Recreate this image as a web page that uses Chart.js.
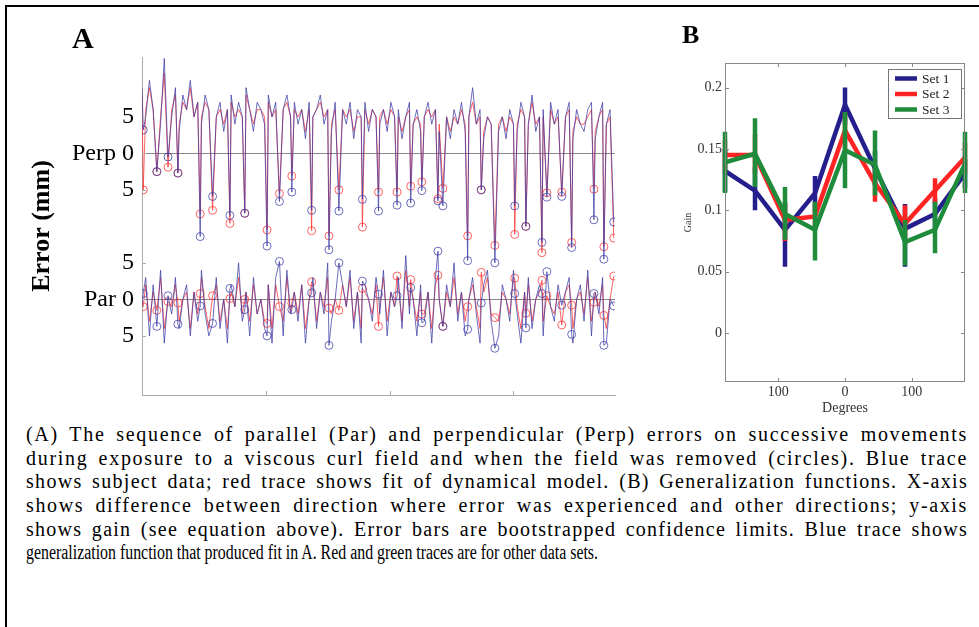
<!DOCTYPE html>
<html>
<head>
<meta charset="utf-8">
<script src="https://cdn.jsdelivr.net/npm/chart.js@4.4.1/dist/chart.umd.min.js"></script>
<style>
  body { margin: 0; width: 979px; height: 627px; overflow: hidden; position: relative; background: #fff;
         font-family: "Liberation Serif", "Times New Roman", serif; color: #000; }
  #frame { position: absolute; left: 5px; top: 5px; width: 1100px; height: 700px;
           border-left: 2px solid #000; border-top: 2px solid #000; }
  #chartA { position: absolute; left: 0; top: 0; }
  #chartB { position: absolute; left: 640px; top: 0; }
  .letter { position: absolute; font-weight: bold; line-height: 1; }
  #caption { position: absolute; left: 26px; top: 423px; }
  .capline { height: 23.7px; line-height: 23.7px; font-size: 20px; white-space: nowrap; transform-origin: 0 0; }
</style>
</head>
<body>
<div id="frame"></div>
<canvas id="chartA" width="640" height="420"></canvas>
<canvas id="chartB" width="339" height="420"></canvas>
<div class="letter" style="left:72px; top:23px; font-size:30px;">A</div>
<div class="letter" style="left:682px; top:22px; font-size:26px;">B</div>
<div id="caption"></div>

<script>
// ---------- panel A: trial-by-trial errors (mm) ----------
const traceStep = 3;          // background traces are read every 3rd trial
const perpOffset = 20;        // Perp trace is drawn 20 mm above the Par trace

// trials where the field was removed (circles)
const catchTrials = [1, 12, 21, 29, 47, 57, 71, 83, 101, 111, 121, 137, 151, 159, 178, 191, 206,
                     217, 226, 239, 243, 263, 274, 285, 301, 310, 323, 327, 339, 347, 365, 373, 381];

const perpBlueCatch = [3.2, -2.5, -0.5, -2.7, -11.4, -5.9, -8.5, -8.2, -12.7, -6.6, -5.3, -7.8, -13.2, -7.9, -6.3, -7.9, -7.1,
                       -6.8, -5.1, -6.5, -7.2, -14.7, -5.0, -15.0, -7.2, -10.0, -12.2, -6.0, -5.9, -12.9, -9.1, -14.5, -9.4];
const perpRedCatch  = [-5.0, -2.5, -1.9, -2.7, -8.3, -7.8, -9.6, -8.2, -10.5, -5.5, -3.1, -10.6, -11.3, -5.0, -10.1, -5.3, -5.3,
                       -4.5, -3.9, -6.2, -4.8, -11.3, -5.0, -12.6, -11.1, -10.0, -13.6, -5.4, -5.3, -12.2, -4.9, -12.8, -11.6];
const parBlueCatch  = [0.8, -3.7, 0.5, -3.4, -0.9, -3.3, 1.5, -1.4, -5.0, 5.2, -1.4, 0.9, -6.3, 5.0, 2.5, 0.7, 0.5,
                       1.6, -3.2, 6.6, -3.7, -4.1, -0.5, -6.7, 0.8, -3.9, 0.8, 3.8, -0.8, -4.8, 0.8, -6.3, -0.9];
const parRedCatch   = [-1.0, -1.5, -0.3, -0.5, 0.8, 0.5, 0.1, 0.0, -3.3, -1.0, -0.5, 2.4, -1.2, -1.5, 1.5, -3.7, 3.2,
                       2.7, -2.0, 3.3, -3.7, -1.0, 3.7, -2.5, 2.9, -1.9, 2.6, 0.5, -3.5, -0.8, -0.4, -2.2, 3.2];

// subject data (blue) and model fit (red), trials 0,3,6,...,381
const perpBlue = [
  9, 5, 10, 6, 8, 4, 13, 7, 5, 9, 3, 8, 6, 10, 5, 7,
  4, 8, 6, 9, 5, 7, 3, 6, 8, 4, 7, 5, 9, 6, 3, 7,
  6, 4, 8, 5, 7, 3, 6, 8, 5, 7, 4, 6, 2, 7, 5, 6,
  8, 4, 6, 3, 7, 5, 6, 4, 7, 2, 6, 5, 7, 3, 6, 5,
  4, 6, 3, 7, 5, 6, 2, 5, 7, 4, 6, 3, 5, 7, 4, 6,
  3, 6, 5, 2, 6, 4, 7, 3, 5, 9, 4, 6, 2, 5, 4, 6,
  3, 5, 2, 6, 4, 3, 7, 5, 4, 8, 3, 5, 6, 2, 7, 4,
  6, 3, 5, 7, 2, 6, 4, 3, 6, 7, 2, 5, 7, 4, 6, 2
];
const perpRed = [
  8, 6, 9, 6, 7, 5, 11, 7, 6, 8, 4, 7, 6, 9, 5, 7,
  5, 7, 6, 8, 5, 6, 4, 6, 7, 5, 6, 5, 8, 6, 4, 6,
  6, 5, 7, 5, 6, 4, 6, 7, 5, 6, 5, 6, 3, 6, 5, 6,
  7, 5, 6, 4, 6, 5, 6, 5, 6, 3, 5, 5, 6, 4, 6, 5,
  5, 6, 4, 6, 5, 5, 3, 5, 6, 4, 5, 4, 5, 6, 5, 6,
  4, 5, 5, 3, 5, 4, 6, 4, 5, 7, 4, 5, 3, 5, 4, 5,
  4, 5, 3, 5, 4, 4, 6, 5, 4, 7, 4, 5, 5, 3, 6, 4,
  5, 4, 5, 6, 3, 5, 4, 4, 5, 6, 3, 5, 6, 4, 5, 3
];
const parBlue = [
  -1, 3, -5, 2, -3, 4, -6, 1, -2, 3, -4, 0, 2, -5, 1, -3,
  4, -2, -5, 1, 3, -4, 0, -6, 2, -1, 5, -3, 1, -5, 3, -2,
  0, -4, 2, -6, 3, -1, -5, 4, -2, 1, -3, 2, -6, 0, 3, -4,
  1, -2, 5, -3, 0, -5, 2, -1, 4, -4, 1, -6, 2, 0, -3, 3,
  -2, 4, -5, 1, -1, 3, -4, 6, -2, 0, -5, 2, -3, 1, -6, 3,
  0, -4, 2, -1, 5, -3, 1, -5, 0, 3, -2, -6, 2, 4, -3, 1,
  -5, 2, 0, -3, 4, -2, -6, 1, 3, -4, 0, 2, -5, 5, -1, -3,
  2, -4, 1, 3, -6, 0, 2, -3, 4, -5, 1, -2, 3, -6, 0, 2
];
const parRed = [
  -1, 2, -3, 1, -2, 3, -4, 1, -1, 2, -3, 0, 1, -4, 1, -2,
  3, -1, -4, 1, 2, -3, 0, -4, 1, -1, 3, -2, 1, -3, 2, -2,
  0, -3, 2, -4, 2, -1, -3, 3, -2, 1, -2, 2, -4, 0, 2, -3,
  1, -1, 3, -2, 0, -3, 2, -1, 3, -3, 1, -4, 1, 0, -2, 2,
  -1, 3, -3, 1, -1, 2, -3, 4, -1, 0, -3, 1, -2, 1, -4, 2,
  0, -3, 1, -1, 3, -2, 1, -3, 0, 2, -1, -4, 1, 3, -2, 1,
  -3, 1, 0, -2, 3, -1, -4, 1, 2, -3, 0, 1, -3, 3, -1, -2,
  1, -3, 1, 2, -4, 0, 1, -2, 3, -3, 1, -1, 2, -4, 0, 1
];

const tickValuesA = [-5, 0, 5, 15, 20, 25];
const tickLabelsA = ['5', 'Par 0', '5', '5', 'Perp 0', '5'];
const trialTicks = [100, 200, 300];

// ---------- panel B: generalization functions ----------
const degrees = [-180, -135, -90, -45, 0, 45, 90, 135, 180];
const set1 = [0.132, 0.116, 0.084, 0.114, 0.186, 0.134, 0.085, 0.097, 0.130];
const set2 = [0.145, 0.145, 0.092, 0.095, 0.165, 0.122, 0.089, 0.116, 0.143];
const set3 = [0.139, 0.146, 0.097, 0.084, 0.149, 0.137, 0.074, 0.084, 0.138];
const set1Lo = [0.115, 0.100, 0.054, 0.098, 0.170, 0.120, 0.054, 0.085, 0.118];
const set1Hi = [0.150, 0.135, 0.107, 0.128, 0.200, 0.148, 0.105, 0.110, 0.142];
const set2Lo = [0.130, 0.130, 0.075, 0.085, 0.150, 0.107, 0.075, 0.105, 0.130];
const set2Hi = [0.157, 0.162, 0.105, 0.105, 0.180, 0.135, 0.104, 0.126, 0.155];
const set3Lo = [0.114, 0.119, 0.076, 0.059, 0.118, 0.112, 0.055, 0.065, 0.114];
const set3Hi = [0.164, 0.175, 0.119, 0.107, 0.180, 0.165, 0.092, 0.107, 0.164];
const gainTicks = [0, 0.05, 0.1, 0.15, 0.2];
const gainLabels = ['0', '0.05', '0.1', '0.15', '0.2'];
const degTicks = [-100, 0, 100];
const degLabels = ['100', '0', '100'];

const serif = '"Liberation Serif", "Times New Roman", serif';

// merge the sampled trace with the circle trials
function buildSeries(trace, catchVals, offset) {
  const pts = [];
  trace.forEach((v, i) => {
    const t = i * traceStep;
    if (!catchTrials.includes(t)) pts.push({ x: t, y: v + offset, c: false });
  });
  catchTrials.forEach((t, i) => pts.push({ x: t, y: catchVals[i] + offset, c: true }));
  return pts.sort((a, b) => a.x - b.x);
}

// short tick marks drawn inside the plot box
const innerTicks = {
  id: 'innerTicks',
  afterDatasetsDraw(chart, args, o) {
    const { ctx, chartArea: a, scales } = chart;
    ctx.save();
    ctx.strokeStyle = o.color;
    ctx.lineWidth = 1;
    if (o.frame) ctx.strokeRect(a.left + 0.5, a.top + 0.5, a.width - 1, a.height - 1);
    ctx.beginPath();
    o.x.forEach(v => {
      const px = Math.round(scales.x.getPixelForValue(v)) + 0.5;
      ctx.moveTo(px, a.bottom); ctx.lineTo(px, a.bottom - o.len);
      if (o.frame) { ctx.moveTo(px, a.top); ctx.lineTo(px, a.top + o.len); }
    });
    o.y.forEach(v => {
      const py = Math.round(scales.y.getPixelForValue(v)) + 0.5;
      ctx.moveTo(a.left, py); ctx.lineTo(a.left + o.len, py);
      if (o.frame) { ctx.moveTo(a.right, py); ctx.lineTo(a.right - o.len, py); }
    });
    ctx.stroke();
    ctx.restore();
  }
};

// vertical confidence bars, drawn with each set so layering follows the lines
const errorBars = {
  id: 'errorBars',
  afterDatasetDraw(chart, args) {
    const ds = chart.data.datasets[args.index];
    if (!ds.lo) return;
    const { ctx, scales: { x, y } } = chart;
    ctx.save();
    ctx.strokeStyle = ds.borderColor;
    ctx.lineWidth = ds.borderWidth;
    ctx.lineCap = 'butt';
    ctx.beginPath();
    degrees.forEach((d, i) => {
      const px = x.getPixelForValue(d);
      ctx.moveTo(px, y.getPixelForValue(ds.lo[i]));
      ctx.lineTo(px, y.getPixelForValue(ds.hi[i]));
    });
    ctx.stroke();
    ctx.restore();
  }
};

const legendBox = {
  id: 'legendBox',
  afterDraw(chart) {
    const { ctx, chartArea: a } = chart;
    const w = 73, h = 49, left = a.right - 4 - w, top = a.top + 6;
    ctx.save();
    ctx.fillStyle = '#fff';
    ctx.fillRect(left, top, w, h);
    ctx.strokeStyle = '#777';
    ctx.lineWidth = 1;
    ctx.strokeRect(left + 0.5, top + 0.5, w, h);
    ctx.font = '13.5px ' + serif;
    ctx.textBaseline = 'middle';
    chart.data.datasets.forEach((ds, i) => {
      const yy = top + 9.5 + i * 15.5;
      ctx.strokeStyle = ds.borderColor;
      ctx.lineWidth = 4.5;
      ctx.beginPath(); ctx.moveTo(left + 7, yy); ctx.lineTo(left + 29, yy); ctx.stroke();
      ctx.fillStyle = '#222';
      ctx.fillText(ds.label, left + 34, yy + 0.5);
    });
    ctx.restore();
  }
};

const blueA = 'rgba(60, 60, 165, 0.75)';
const redA = 'rgba(255, 50, 50, 0.75)';

function traceSet(data, color) {
  return {
    data: data,
    borderColor: color,
    borderWidth: 1,
    tension: 0,
    pointRadius: c => (c.raw && c.raw.c ? 4 : 0),
    pointBorderColor: color,
    pointBackgroundColor: 'rgba(0,0,0,0)',
    pointBorderWidth: 1
  };
}

new Chart(document.getElementById('chartA'), {
  type: 'line',
  data: {
    datasets: [
      traceSet(buildSeries(perpBlue, perpBlueCatch, perpOffset), blueA),
      traceSet(buildSeries(perpRed, perpRedCatch, perpOffset), redA),
      traceSet(buildSeries(parBlue, parBlueCatch, 0), blueA),
      traceSet(buildSeries(parRed, parRedCatch, 0), redA)
    ]
  },
  options: {
    responsive: false,
    animation: false,
    devicePixelRatio: 1,
    layout: { padding: { left: 0, top: 57, right: 25, bottom: 0 } },
    plugins: {
      legend: { display: false },
      tooltip: { enabled: false },
      innerTicks: { x: trialTicks, y: tickValuesA, len: 4, color: '#aaa', frame: false }
    },
    scales: {
      x: {
        type: 'linear', min: 0, max: 382,
        ticks: { display: false },
        grid: { display: false, drawTicks: false },
        border: { color: '#aaa' },
        afterFit: s => { s.height = 25; }
      },
      y: {
        min: -13.1, max: 33.2,
        afterBuildTicks: s => { s.ticks = tickValuesA.map(v => ({ value: v })); },
        ticks: {
          color: '#000', padding: 8,
          font: { family: serif, size: 24 },
          callback: v => tickLabelsA[tickValuesA.indexOf(v)]
        },
        grid: {
          drawTicks: false,
          color: c => (c.tick && (c.tick.value === 0 || c.tick.value === perpOffset) ? '#888' : 'rgba(0,0,0,0)')
        },
        border: { color: '#aaa' },
        title: {
          display: true, text: 'Error (mm)', color: '#000',
          font: { family: serif, size: 26, weight: 'bold' },
          padding: { top: 27, bottom: 0 }
        },
        afterFit: s => { s.width = 142; }
      }
    }
  },
  plugins: [innerTicks]
});

function gainSet(label, values, lo, hi, color, order) {
  return {
    label: label,
    data: degrees.map((d, i) => ({ x: d, y: values[i] })),
    lo: lo, hi: hi,
    borderColor: color,
    borderWidth: 4.5,
    pointRadius: 0,
    tension: 0,
    order: order
  };
}

new Chart(document.getElementById('chartB'), {
  type: 'line',
  data: {
    datasets: [
      gainSet('Set 1', set1, set1Lo, set1Hi, '#241f8c', 3),
      gainSet('Set 2', set2, set2Lo, set2Hi, '#ff2424', 2),
      gainSet('Set 3', set3, set3Lo, set3Hi, '#1f8c3c', 1)
    ]
  },
  options: {
    responsive: false,
    animation: false,
    devicePixelRatio: 1,
    layout: { padding: { left: 0, top: 63, right: 14, bottom: 0 } },
    plugins: {
      legend: { display: false },
      tooltip: { enabled: false },
      innerTicks: { x: degTicks, y: gainTicks, len: 4, color: '#888', frame: true }
    },
    scales: {
      x: {
        type: 'linear', min: -180, max: 180,
        afterBuildTicks: s => { s.ticks = degTicks.map(v => ({ value: v })); },
        ticks: {
          color: '#333', padding: 2,
          font: { family: serif, size: 14 },
          callback: v => degLabels[degTicks.indexOf(v)]
        },
        grid: { display: false, drawTicks: false },
        border: { display: false },
        title: {
          display: true, text: 'Degrees', color: '#333',
          font: { family: serif, size: 14 },
          padding: { top: 0, bottom: 3.6 }
        },
        afterFit: s => { s.height = 38; }
      },
      y: {
        min: -0.04, max: 0.22,
        afterBuildTicks: s => { s.ticks = gainTicks.map(v => ({ value: v })); },
        ticks: {
          color: '#333', padding: 3,
          font: { family: serif, size: 14 },
          callback: v => gainLabels[gainTicks.indexOf(v)]
        },
        grid: { display: false, drawTicks: false },
        border: { display: false },
        title: {
          display: true, text: 'Gain', color: '#333',
          font: { family: serif, size: 10 },
          padding: { top: 42, bottom: 0 }
        },
        afterFit: s => { s.width = 85; }
      }
    }
  },
  plugins: [errorBars, innerTicks, legendBox]
});

// ---------- caption ----------
const captionLines = [
  '(A) The sequence of parallel (Par) and perpendicular (Perp) errors on successive movements',
  'during exposure to a viscous curl field and when the field was removed (circles). Blue trace',
  'shows subject data; red trace shows fit of dynamical model. (B) Generalization functions. X-axis',
  'shows difference between direction where error was experienced and other directions; y-axis',
  'shows gain (see equation above). Error bars are  bootstrapped confidence limits. Blue trace shows',
  'generalization function that produced fit in A. Red and green traces are for other data sets.'
];
const cap = document.getElementById('caption');
const spans = captionLines.map(txt => {
  const d = document.createElement('div');
  d.className = 'capline';
  const s = document.createElement('span');
  s.textContent = txt;
  d.appendChild(s);
  cap.appendChild(d);
  return s;
});
// justified lines reach 942px, the extra room shared between words and letters;
// the last line is set tighter (572px wide in the figure)
const widths = spans.map(s => s.getBoundingClientRect().width);
spans.forEach((s, i) => {
  const txt = captionLines[i].replace(/  +/g, ' ');
  if (i === spans.length - 1) {
    s.parentNode.style.transform = 'scaleX(' + (572 / widths[i]) + ')';
    return;
  }
  const extra = 942 - widths[i];
  const gaps = (txt.match(/ /g) || []).length;
  s.style.wordSpacing = (0.25 * extra / gaps) + 'px';
  s.style.letterSpacing = (0.75 * extra / txt.length) + 'px';
});
</script>
</body>
</html>
